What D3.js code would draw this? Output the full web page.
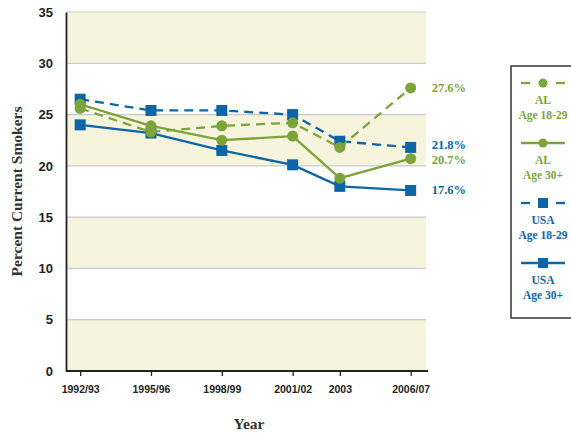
<!DOCTYPE html>
<html>
<head>
<meta charset="utf-8">
<script src="https://cdn.jsdelivr.net/npm/d3@7"></script>
<style>
  body { margin: 0; background: #fff; }
  svg { display: block; }
</style>
</head>
<body>
<div id="chart"></div>
<script>
// Survey periods, positioned on a year axis
const periods = ['1992/93', '1995/96', '1998/99', '2001/02', '2003', '2006/07'];
const periodYears = [1993, 1996, 1999, 2002, 2004, 2007];

const alAge1829 = [25.6, 23.3, 23.9, 24.2, 21.8, 27.6];
const alAge30 = [26.0, 23.9, 22.5, 22.9, 18.8, 20.7];
const usaAge1829 = [26.5, 25.4, 25.4, 25.0, 22.4, 21.8];
const usaAge30 = [24.0, 23.2, 21.5, 20.1, 18.0, 17.6];

const yTicks = [0, 5, 10, 15, 20, 25, 30, 35];

const green = '#7ba43a';
const blue = '#0c65a7';

const series = [
    { name: 'AL', sub: 'Age 18-29', values: alAge1829, color: green, dashed: true, shape: 'circle' },
    { name: 'AL', sub: 'Age 30+', values: alAge30, color: green, dashed: false, shape: 'circle' },
    { name: 'USA', sub: 'Age 18-29', values: usaAge1829, color: blue, dashed: true, shape: 'square' },
    { name: 'USA', sub: 'Age 30+', values: usaAge30, color: blue, dashed: false, shape: 'square' }
];

const width = 571, height = 435;
const margin = { left: 66, top: 12, right: 145, bottom: 64 };

const svg = d3.select('#chart').append('svg')
    .attr('width', width)
    .attr('height', height);

const x = d3.scaleLinear()
    .domain([1992.4, 2007.65])
    .range([margin.left, width - margin.right]);

const y = d3.scaleLinear()
    .domain([0, 35])
    .range([height - margin.bottom, margin.top]);

const serif = '"Liberation Serif", "DejaVu Serif", serif';
const narrow = '"Liberation Sans Narrow", "Arial Narrow", "Liberation Sans", sans-serif';

// Alternating background bands
const bands = d3.range(0, 35, 5);
svg.append('g').selectAll('rect')
    .data(bands)
    .join('rect')
    .attr('x', x.range()[0])
    .attr('width', x.range()[1] - x.range()[0])
    .attr('y', d => y(d + 5))
    .attr('height', d => y(d) - y(d + 5))
    .attr('fill', d => (d / 5) % 2 === 0 ? '#f6f4dc' : '#ffffff');

// Grid lines
svg.append('g').selectAll('line')
    .data(yTicks.filter(d => d > 0))
    .join('line')
    .attr('x1', x.range()[0])
    .attr('x2', x.range()[1])
    .attr('y1', d => y(d))
    .attr('y2', d => y(d))
    .attr('stroke', '#c6cbd3')
    .attr('stroke-width', 1.2);

// Y axis
const yAxis = svg.append('g')
    .attr('transform', `translate(${margin.left},0)`)
    .call(d3.axisLeft(y).tickValues(yTicks).tickSize(0).tickPadding(13));
yAxis.select('.domain').attr('stroke', '#222').attr('stroke-width', 1.8);
yAxis.selectAll('text')
    .attr('font-family', narrow)
    .attr('font-weight', 'bold')
    .attr('font-size', 13)
    .attr('fill', '#222');

// X axis
const xAxis = svg.append('g')
    .attr('transform', `translate(0,${y(0)})`)
    .call(d3.axisBottom(x).tickValues(periodYears)
        .tickFormat((d, i) => periods[i]).tickSizeOuter(0).tickSizeInner(5).tickPadding(10));
xAxis.select('.domain').attr('stroke', '#222').attr('stroke-width', 1.8)
    .attr('d', `M${margin.left},0H${x.range()[1] + 2}`);
xAxis.selectAll('.tick line').attr('stroke', '#222').attr('stroke-width', 1.3);
xAxis.selectAll('text')
    .attr('font-family', narrow)
    .attr('font-weight', 'bold')
    .attr('font-size', 10.5)
    .attr('fill', '#222');

// Axis titles
svg.append('text')
    .attr('transform', `translate(22,${(y(0) + y(35)) / 2}) rotate(-90)`)
    .attr('text-anchor', 'middle')
    .attr('font-family', serif)
    .attr('font-weight', 'bold')
    .attr('font-size', 15.5)
    .attr('fill', '#333')
    .text('Percent Current Smokers');

svg.append('text')
    .attr('x', 249)
    .attr('y', 429)
    .attr('text-anchor', 'middle')
    .attr('font-family', serif)
    .attr('font-weight', 'bold')
    .attr('font-size', 15.5)
    .attr('fill', '#333')
    .text('Year');

// Lines and markers
const line = d3.line()
    .x((d, i) => x(periodYears[i]))
    .y(d => y(d));

function drawMarker(g, shape, color, cx, cy) {
    if (shape === 'circle') {
        g.append('circle').attr('cx', cx).attr('cy', cy).attr('r', 5.5).attr('fill', color);
    } else {
        g.append('rect').attr('x', cx - 5.5).attr('y', cy - 5.5)
            .attr('width', 11).attr('height', 11).attr('fill', color);
    }
}

// draw order: blue first, green on top
const drawOrder = [3, 2, 1, 0];
drawOrder.forEach(k => {
    const s = series[k];
    const g = svg.append('g');
    g.append('path')
        .attr('d', line(s.values))
        .attr('fill', 'none')
        .attr('stroke', s.color)
        .attr('stroke-width', 2.3)
        .attr('stroke-dasharray', s.dashed ? '9,6' : null);
    s.values.forEach((v, i) => drawMarker(g, s.shape, s.color, x(periodYears[i]), y(v)));
});

// End value labels (small nudges keep the close ones apart)
const endLabels = [
    { s: series[0], dy: 0 },
    { s: series[2], dy: -2.5 },
    { s: series[1], dy: 0.5 },
    { s: series[3], dy: -1 }
];
endLabels.forEach(d => {
    const v = d.s.values[d.s.values.length - 1];
    svg.append('text')
        .attr('x', x(periodYears[periodYears.length - 1]) + 21)
        .attr('y', y(v) + d.dy)
        .attr('dy', '0.35em')
        .attr('font-family', serif)
        .attr('font-weight', 'bold')
        .attr('font-size', 12.5)
        .attr('fill', d.s.color)
        .text(v.toFixed(1) + '%');
});

// Legend
const legend = svg.append('g');
legend.append('rect')
    .attr('x', 511)
    .attr('y', 66)
    .attr('width', 70)
    .attr('height', 252)
    .attr('fill', '#fff')
    .attr('stroke', '#333')
    .attr('stroke-width', 1.5);

series.forEach((s, i) => {
    const cy = 83 + i * 60;
    const cx = 543;
    const g = legend.append('g');
    if (s.dashed) {
        g.append('line').attr('x1', cx - 22).attr('x2', cx - 13).attr('y1', cy).attr('y2', cy)
            .attr('stroke', s.color).attr('stroke-width', 2.3);
        g.append('line').attr('x1', cx + 13).attr('x2', cx + 22).attr('y1', cy).attr('y2', cy)
            .attr('stroke', s.color).attr('stroke-width', 2.3);
    } else {
        g.append('line').attr('x1', cx - 22).attr('x2', cx + 22).attr('y1', cy).attr('y2', cy)
            .attr('stroke', s.color).attr('stroke-width', 2.3);
    }
    if (s.shape === 'circle') {
        g.append('circle').attr('cx', cx).attr('cy', cy).attr('r', 4.5).attr('fill', s.color);
    } else {
        g.append('rect').attr('x', cx - 5).attr('y', cy - 5).attr('width', 10).attr('height', 10).attr('fill', s.color);
    }
    g.append('text')
        .attr('x', cx).attr('y', cy + 21)
        .attr('text-anchor', 'middle')
        .attr('font-family', serif).attr('font-weight', 'bold').attr('font-size', 11.5)
        .attr('fill', s.color)
        .text(s.name);
    g.append('text')
        .attr('x', cx).attr('y', cy + 36)
        .attr('text-anchor', 'middle')
        .attr('font-family', serif).attr('font-weight', 'bold').attr('font-size', 11.5)
        .attr('fill', s.color)
        .text(s.sub);
});
</script>
</body>
</html>
